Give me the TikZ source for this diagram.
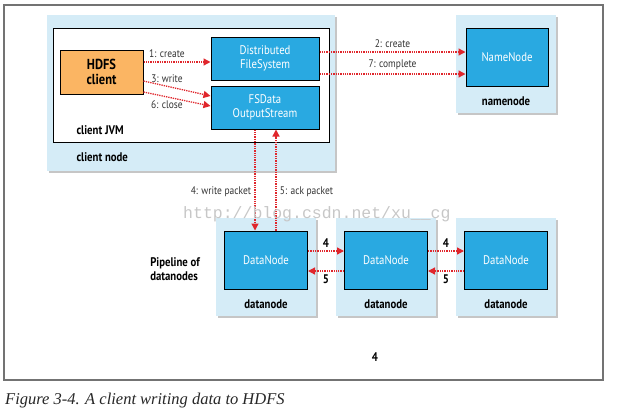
\documentclass[tikz,border=0pt]{standalone}
\usepackage{fontspec}
\setmainfont{PT Sans}[FakeStretch=0.86]
\newfontfamily\capfont{Liberation Serif}
\newfontfamily\wmfont{Liberation Mono}
\usetikzlibrary{arrows.meta,shadows}
\definecolor{hostblue}{HTML}{D5ECF7}
\definecolor{procblue}{HTML}{29A9E1}
\definecolor{clientorange}{HTML}{FBB563}
\definecolor{msgred}{HTML}{E0262C}
\begin{document}
\begin{tikzpicture}[x=1pt,y=-1pt,
	host/.style={fill=hostblue,inner sep=0,drop shadow={shadow xshift=2pt,shadow yshift=-2pt,opacity=.45},minimum width=100pt,minimum height=98pt},
	proc/.style={draw=black,line width=1pt,fill=procblue,text=white,inner sep=0,align=center,font=\fontsize{12.5}{13.5}\selectfont,minimum width=83pt,minimum height=58pt},
	msg/.style={draw=msgred,densely dotted,line width=1.3pt,-{Triangle[length=7pt,width=7pt]}},
	lbl/.style={font=\fontsize{11}{12}\selectfont,text=black!80},
	tag/.style={font=\bfseries\fontsize{12.5}{14}\selectfont}]
	\useasboundingbox(0,0)rectangle(618,410);
	\draw[black!55,line width=1.2pt](4,5)rectangle(603,380);
	% client side
	\node[host,minimum width=288pt,minimum height=156pt](cnode)at(191,93){};
	\node[draw,fill=white,line width=1pt,minimum width=276pt,minimum height=114pt](jvm)at(191,85){};
	\node[draw,line width=1pt,fill=clientorange,inner sep=0,minimum width=83pt,minimum height=44pt,align=center,font=\bfseries\fontsize{14.5}{15.5}\selectfont](hdfs)at(101.5,72){HDFS\\client};
	\node[proc,minimum width=108pt,minimum height=43pt](dfs)at(265,58.5){Distributed\\FileSystem};
	\node[proc,minimum width=108pt,minimum height=43pt](fsdos)at(265,107.5){FSData\\OutputStream};
	\node[tag,anchor=west](jvmlbl)at(73,130){client JVM};
	\node[tag,anchor=west](cnodelbl)at(73,157){client node};
	% namenode
	\node[host](nnhost)at(506,64){};
	\node[proc,minimum width=82pt](nn)at(507,57){NameNode};
	\node[tag](nnlbl)at(506,101){namenode};
	% datanodes
	\foreach \i/\x in {1/266,2/386,3/506}{
		\node[host](dnhost\i)at(\x,267){};
		\node[proc](dn\i)at(\x,260){DataNode};
		\node[tag](dnlbl\i)at(\x,304){datanode};
	}
	\node[tag,align=left](pipe)at(175,269){Pipeline of\\datanodes};
	% messages
	\draw[msg]([yshift=10pt]hdfs.east)--node[lbl,above,pos=.35]{1: create}([yshift=-3.5pt]dfs.west);
	\draw[msg]([yshift=-9pt]hdfs.east)--node[lbl,above,pos=.35]{3: write}([yshift=11.5pt]fsdos.west);
	\draw[msg]([yshift=-20pt]hdfs.east)--node[lbl,below,pos=.35]{6: close}([yshift=1.5pt]fsdos.west);
	\draw[msg]([yshift=6.5pt]dfs.east)--node[lbl,above]{2: create}([yshift=5pt]nn.west);
	\draw[msg]([yshift=-15.5pt]dfs.east)--node[lbl,above]{7: complete}([yshift=-17pt]nn.west);
	\draw[msg]([xshift=-10pt]fsdos.south)--node[lbl,left,pos=.62]{4: write packet}([xshift=-11pt]dn1.north);
	\draw[msg]([xshift=10pt]dn1.north)--node[lbl,right,pos=.38]{5: ack packet}([xshift=11pt]fsdos.south);
	\foreach \a/\b in {1/2,2/3}{
		\draw[msg]([yshift=9pt]dn\a.east)--node[tag,above]{4}([yshift=9pt]dn\b.west);
		\draw[msg]([yshift=-11pt]dn\b.west)--node[tag,below]{5}([yshift=-11pt]dn\a.east);
	}
	\node[tag](four)at(375,357){4};
	\node[anchor=west,inner sep=0,font=\capfont\itshape\fontsize{16.5}{17}\selectfont,text=black!85](caption)at(5,401){Figure 3-4. A client writing data to HDFS};
	\node[anchor=west,inner sep=0,font=\wmfont\fontsize{16.5}{17}\selectfont,text=black!22](wm)at(183,214){http://blog.csdn.net/xu\_\_cg};
\end{tikzpicture}
\end{document}
